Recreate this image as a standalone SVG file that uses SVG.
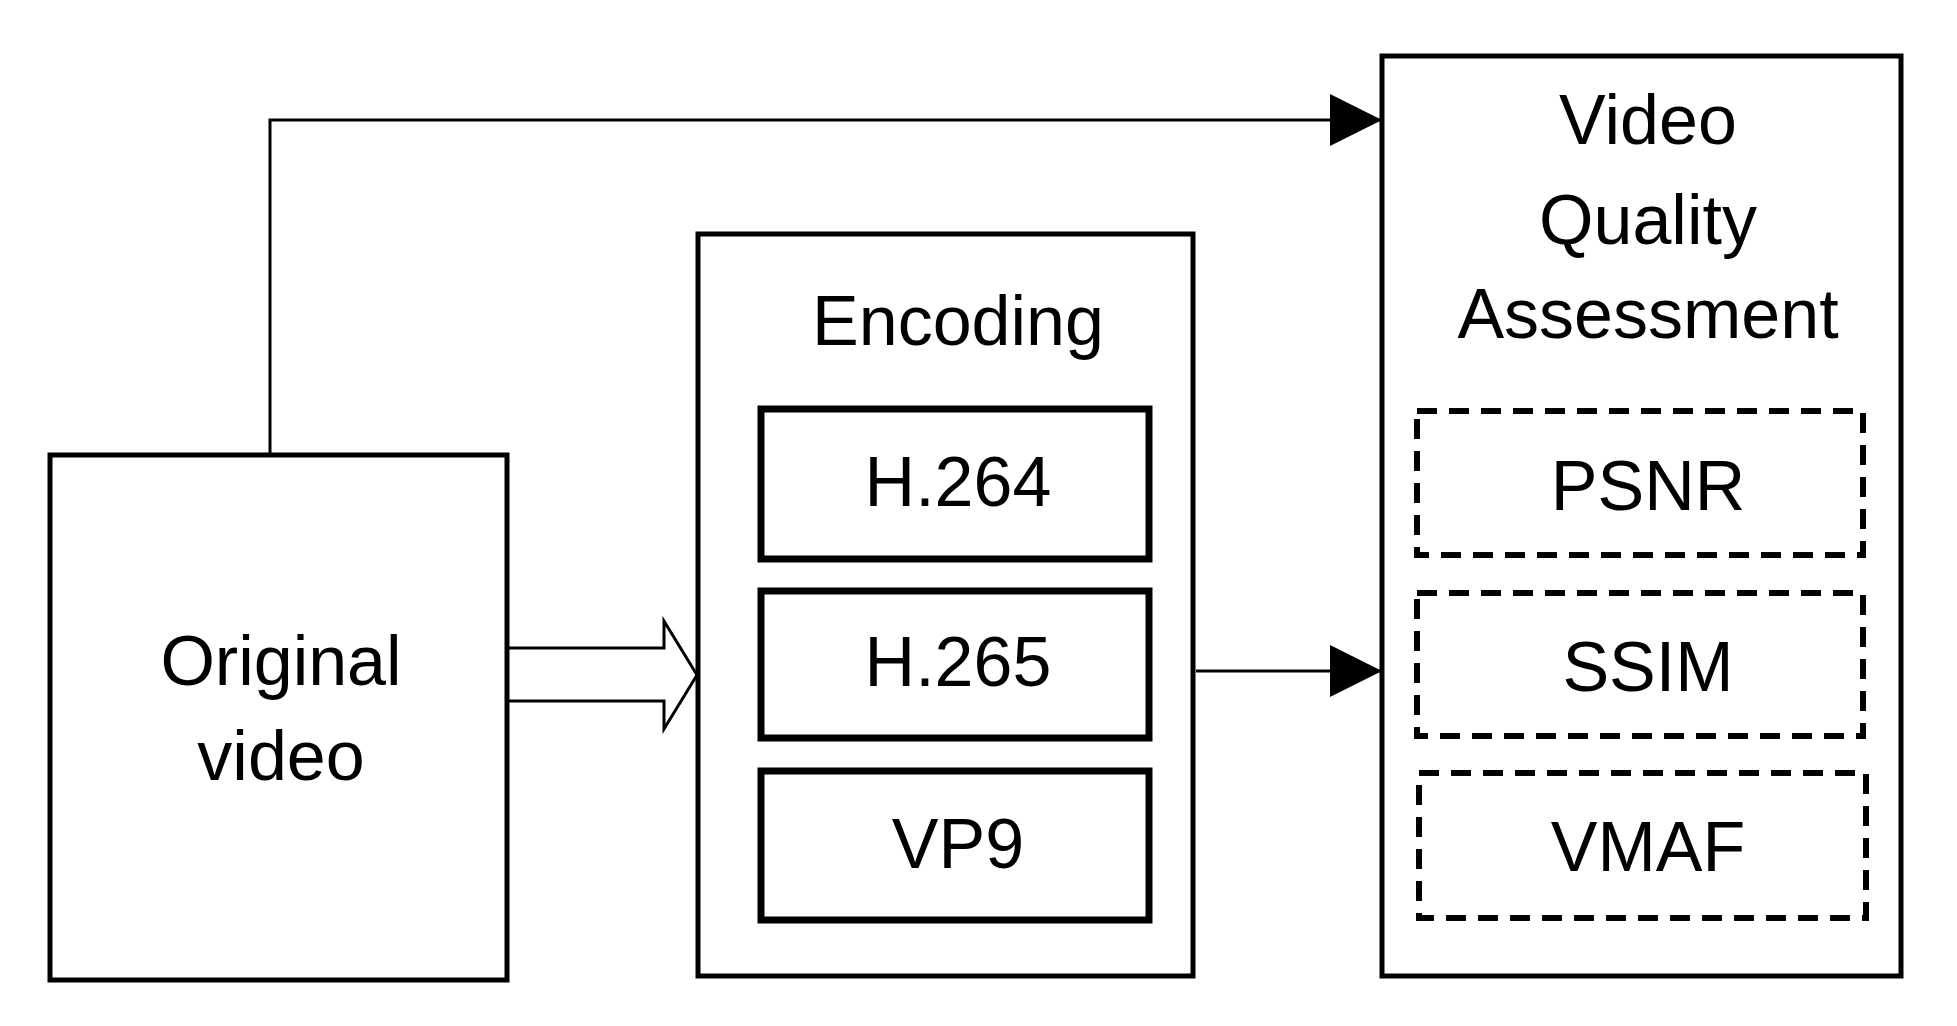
<svg xmlns="http://www.w3.org/2000/svg" width="1957" height="1026" viewBox="0 0 1957 1026">
<style>
text{font-family:"Liberation Sans",Arial,sans-serif;font-size:70px;fill:#000;text-anchor:middle}
.box{fill:#fff;stroke:#000;stroke-width:5}
.inner{fill:#fff;stroke:#000;stroke-width:7}
.dash{fill:none;stroke:#000;stroke-width:6;stroke-dasharray:20,12}
.ln{fill:none;stroke:#000;stroke-width:3}
</style>
<defs><marker id="ah" markerWidth="14" markerHeight="14" refX="14" refY="7" orient="auto" markerUnits="userSpaceOnUse" viewBox="0 0 14 14"><path d="M0,0L14,7L0,14Z"/></marker>
<marker id="big" viewBox="0 0 52 52" refX="52" refY="26" markerWidth="52" markerHeight="52" markerUnits="userSpaceOnUse" orient="auto"><path d="M0,0L52,26L0,52Z" fill="#000"/></marker></defs>
<rect width="1957" height="1026" fill="#fff"/>
<g id="connectors">
<path class="ln" d="M270,455V120H1382" marker-end="url(#big)"/>
<path class="ln" d="M1196,671H1382" marker-end="url(#big)"/>
<path class="ln" d="M509,648H664V621L697,675L664,729V701H509" fill="#fff"/>
</g>
<g id="original"><rect class="box" x="50" y="455" width="457" height="525"/><text x="281" y="685">Original</text><text x="281" y="780">video</text></g>
<g id="encoding"><rect class="box" x="698" y="234" width="495" height="742"/><text x="958" y="345">Encoding</text></g>
<g id="h264"><rect class="inner" x="761" y="409" width="388" height="150"/><text x="958" y="506">H.264</text></g>
<g id="h265"><rect class="inner" x="761" y="591" width="388" height="147"/><text x="958" y="686">H.265</text></g>
<g id="vp9"><rect class="inner" x="761" y="771" width="388" height="149"/><text x="958" y="868">VP9</text></g>
<g id="vqa"><rect class="box" x="1382" y="56" width="519" height="920"/><text x="1648" y="144">Video</text><text x="1648" y="244">Quality</text><text x="1648" y="338">Assessment</text></g>
<g id="psnr"><rect class="dash" x="1417" y="411" width="446" height="144"/><text x="1648" y="510">PSNR</text></g>
<g id="ssim"><rect class="dash" x="1417" y="593" width="446" height="143"/><text x="1648" y="691">SSIM</text></g>
<g id="vmaf"><rect class="dash" x="1419" y="773" width="447" height="145"/><text x="1648" y="871">VMAF</text></g>
</svg>
